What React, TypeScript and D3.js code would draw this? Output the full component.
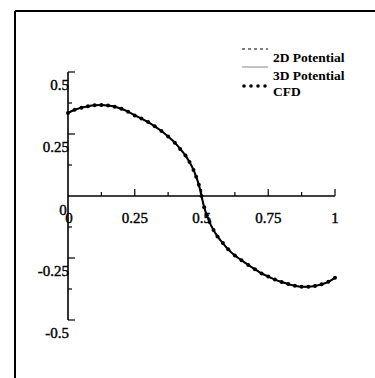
import React from "react";
import * as d3 from "d3";

const potX = [0, 0.05, 0.1, 0.15, 0.2, 0.25, 0.3, 0.35, 0.4, 0.43, 0.45, 0.47, 0.48, 0.49, 0.5, 0.51, 0.52, 0.53, 0.55, 0.57, 0.6, 0.65, 0.7, 0.75, 0.8, 0.85, 0.88, 0.9, 0.95, 1];
const pot2D = [0.336, 0.356, 0.366, 0.365, 0.352, 0.326, 0.298, 0.262, 0.215, 0.178, 0.148, 0.105, 0.078, 0.045, 0.0, -0.045, -0.078, -0.105, -0.148, -0.178, -0.215, -0.258, -0.295, -0.325, -0.347, -0.362, -0.366, -0.365, -0.356, -0.331];
const pot3D = [0.334, 0.355, 0.365, 0.364, 0.351, 0.325, 0.297, 0.261, 0.214, 0.177, 0.147, 0.104, 0.077, 0.044, 0.0, -0.046, -0.079, -0.106, -0.149, -0.179, -0.216, -0.259, -0.296, -0.326, -0.348, -0.363, -0.367, -0.366, -0.357, -0.332];

const cfdX = [0, 0.025, 0.05, 0.075, 0.1, 0.125, 0.15, 0.175, 0.2, 0.225, 0.25, 0.275, 0.3, 0.325, 0.35, 0.375, 0.4, 0.42, 0.44, 0.455, 0.47, 0.48, 0.49, 0.5, 0.51, 0.52, 0.53, 0.545, 0.56, 0.58, 0.6, 0.625, 0.65, 0.675, 0.7, 0.725, 0.75, 0.775, 0.8, 0.825, 0.85, 0.875, 0.9, 0.925, 0.95, 0.975, 1];
const cfdY = [0.335, 0.348, 0.356, 0.362, 0.366, 0.367, 0.365, 0.36, 0.352, 0.34, 0.325, 0.312, 0.298, 0.281, 0.262, 0.24, 0.215, 0.19, 0.163, 0.137, 0.105, 0.078, 0.045, 0.0, -0.045, -0.078, -0.105, -0.137, -0.163, -0.19, -0.215, -0.24, -0.259, -0.278, -0.295, -0.312, -0.325, -0.337, -0.347, -0.355, -0.362, -0.366, -0.366, -0.363, -0.356, -0.346, -0.33];

const xMajor = [0.25, 0.5, 0.75, 1];
const xMinor = [0.125, 0.375, 0.625, 0.875];
const xLabels = ["0.25", "0.5", "0.75", "1"];
const yMajor = [0.5, 0.25, -0.25, -0.5];
const yMinor = [0.375, 0.125, -0.125, -0.375];
const yLabels = ["0.5", "0.25", "-0.25", "-0.5"];
const legendNames = ["2D Potential", "3D Potential", "CFD"];

export default function App() {
  const W = 375, H = 378;
  const x = d3.scaleLinear().domain([0, 1]).range([68, 335]);
  const y = d3.scaleLinear().domain([-0.5, 0.5]).range([320, 72]);
  const line = d3
    .line<[number, number]>()
    .x((d) => x(d[0]))
    .y((d) => y(d[1]))
    .curve(d3.curveMonotoneX);
  const p2 = line(potX.map((v, i) => [v, pot2D[i]]) as [number, number][]) || "";
  const p3 = line(potX.map((v, i) => [v, pot3D[i]]) as [number, number][]) || "";
  const pc = line(cfdX.map((v, i) => [v, cfdY[i]]) as [number, number][]) || "";
  const font = "'Liberation Serif', 'Times New Roman', serif";

  return (
    <svg width={W} height={H} style={{ position: "absolute", left: 0, top: 0, background: "#fff" }}>
      {/* frame */}
      <line x1={15} y1={11} x2={375} y2={11} stroke="#000" strokeWidth={2} />
      <line x1={15} y1={11} x2={15} y2={378} stroke="#000" strokeWidth={2} />

      {/* axes */}
      <line x1={x(0)} y1={y(0.5)} x2={x(0)} y2={y(-0.5)} stroke="#000" strokeWidth={1.6} />
      <line x1={x(0)} y1={y(0)} x2={x(1)} y2={y(0)} stroke="#000" strokeWidth={1.6} />
      {xMajor.map((v) => (
        <line key={"xM" + v} x1={x(v)} x2={x(v)} y1={y(0)} y2={y(0) - 7} stroke="#000" strokeWidth={1.2} />
      ))}
      {xMinor.map((v) => (
        <line key={"xm" + v} x1={x(v)} x2={x(v)} y1={y(0)} y2={y(0) - 4} stroke="#000" strokeWidth={1.2} />
      ))}
      {yMajor.map((v) => (
        <line key={"yM" + v} x1={x(0)} x2={x(0) + 7} y1={y(v)} y2={y(v)} stroke="#000" strokeWidth={1.2} />
      ))}
      {yMinor.map((v) => (
        <line key={"ym" + v} x1={x(0)} x2={x(0) + 4} y1={y(v)} y2={y(v)} stroke="#000" strokeWidth={1.2} />
      ))}

      {/* tick labels */}
      <g fontFamily={font} fontSize={15} fill="#000" stroke="#000" strokeWidth={0.4}>
        {xMajor.map((v, i) => (
          <text key={"xl" + v} x={x(v)} y={y(0) + 27} textAnchor="middle">
            {xLabels[i]}
          </text>
        ))}
        <text x={x(0) + 1} y={y(0) + 27} textAnchor="middle">0</text>
        <text x={x(0) - 5} y={y(0) + 19} textAnchor="middle">0</text>
        {yMajor.map((v, i) => (
          <text key={"yl" + v} x={x(0) + 1} y={y(v) + 18} textAnchor="end">
            {yLabels[i]}
          </text>
        ))}
      </g>

      {/* series */}
      <path d={p3} fill="none" stroke="#888" strokeWidth={1} />
      <path d={p2} fill="none" stroke="#000" strokeWidth={1.2} strokeDasharray="3,2" />
      <path d={pc} fill="none" stroke="#000" strokeWidth={2} />
      {cfdX.map((v, i) => (
        <circle key={"c" + i} cx={x(v)} cy={y(cfdY[i])} r={2} fill="#000" />
      ))}

      {/* legend */}
      <line x1={242} x2={268} y1={49} y2={49} stroke="#000" strokeWidth={1.2} strokeDasharray="3,3" />
      <line x1={242} x2={268} y1={67} y2={67} stroke="#888" strokeWidth={1} />
      {[244, 251, 258, 265].map((px) => (
        <circle key={"ld" + px} cx={px} cy={86} r={1.8} fill="#000" />
      ))}
      <g fontFamily={font} fontSize={13.5} fontWeight="bold" fill="#000">
        <text x={273} y={62}>{legendNames[0]}</text>
        <text x={273} y={80}>{legendNames[1]}</text>
        <text x={273} y={96}>{legendNames[2]}</text>
      </g>
    </svg>
  );
}
